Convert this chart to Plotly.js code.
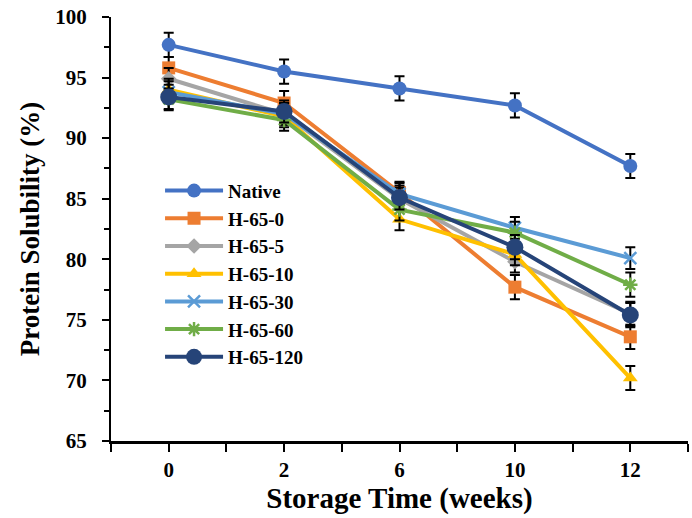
<!DOCTYPE html>
<html>
<head>
<meta charset="utf-8">
<script src="https://cdn.plot.ly/plotly-3.0.1.min.js"></script>
<style>
  html,body{margin:0;padding:0;background:#fff;}
  #chart{width:692px;height:518px;}
</style>
</head>
<body>
<div id="chart"></div>
<script>
// Protein solubility during storage
const WEEKS = ["0","2","6","10","12"];

const NATIVE    = [97.7, 95.5, 94.1, 92.7, 87.7];
const H65_0     = [95.8, 92.9, 85.5, 77.7, 73.6];
const H65_5     = [94.9, 92.0, 85.0, 79.8, 75.5];
const H65_10    = [94.0, 91.8, 83.3, 80.4, 70.2];
const H65_30    = [93.8, 92.0, 85.4, 82.6, 80.1];
const H65_60    = [93.2, 91.5, 84.1, 82.2, 77.9];
const H65_120   = [93.4, 92.2, 85.1, 81.0, 75.4];

const ERR_NATIVE  = [1.0, 1.0, 1.0, 1.0, 1.0];
const ERR_H65_0   = [0.9, 1.0, 0.9, 1.0, 1.0];
const ERR_H65_5   = [0.9, 0.9, 0.9, 0.9, 1.0];
const ERR_H65_10  = [0.9, 0.9, 0.9, 0.9, 1.0];
const ERR_H65_30  = [0.9, 0.9, 0.9, 0.9, 0.9];
const ERR_H65_60  = [0.9, 0.9, 0.9, 0.9, 1.0];
const ERR_H65_120 = [1.0, 0.9, 1.0, 1.0, 1.0];

const FONT = 'Liberation Serif, Times New Roman, serif';
const xs = WEEKS.map((w,i)=>i);

function tr(name, y, err, color, symbol, size, lineColor){
  return {
    x: xs, y: y, name: name, type:'scatter', mode:'lines+markers',
    line:{color:color, width:4},
    marker:{symbol:symbol, size:size, color:color, line:{color:lineColor||color, width:lineColor?2.5:0}},
    error_y:{type:'data', array:err, visible:true, color:'#000', thickness:2, width:5}
  };
}

const traces = [
  tr('Native',   NATIVE,  ERR_NATIVE,  '#4472C4','circle',14),
  tr('H-65-0',   H65_0,   ERR_H65_0,   '#ED7D31','square',13),
  tr('H-65-5',   H65_5,   ERR_H65_5,   '#A5A5A5','diamond',12),
  tr('H-65-10',  H65_10,  ERR_H65_10,  '#FFC000','triangle-up',13),
  tr('H-65-30',  H65_30,  ERR_H65_30,  '#5B9BD5','x-thin-open',12,'#5B9BD5'),
  tr('H-65-60',  H65_60,  ERR_H65_60,  '#70AD47','asterisk-open',12,'#70AD47'),
  tr('H-65-120', H65_120, ERR_H65_120, '#264478','circle',17)
];

const tickv = [], tickt = [];
for (let i=-0.5;i<=WEEKS.length-0.5+1e-9;i+=0.5){
  tickv.push(i);
  tickt.push(Number.isInteger(i)?WEEKS[i]:'');
}

const TICKFONT = {family:FONT, size:21, color:'#000', weight:'bold'};

const layout = {
  width:692, height:518,
  paper_bgcolor:'#fff', plot_bgcolor:'#fff',
  margin:{l:111,r:4,t:17,b:77},
  font:{family:FONT, color:'#000'},
  showlegend:true,
  legend:{x:0.085, y:0.635, xanchor:'left', yanchor:'top', bgcolor:'rgba(0,0,0,0)',
    itemwidth:58,
    font:{family:FONT, size:19, color:'#000', weight:'bold'}, tracegroupgap:0},
  xaxis:{
    range:[-0.5, WEEKS.length-0.5], tickmode:'array', tickvals:tickv, ticktext:tickt,
    showline:true, linecolor:'#000', linewidth:2.5, showgrid:false, zeroline:false,
    ticks:'outside', ticklen:8, tickwidth:2, tickcolor:'#000',
    tickfont:TICKFONT,
    title:{text:'Storage Time (weeks)', font:{family:FONT, size:29, color:'#000', weight:'bold'}, standoff:2}
  },
  yaxis:{
    range:[65,100], dtick:5, tick0:65, ticksuffix:'\u00a0\u00a0',
    showline:true, linecolor:'#000', linewidth:2.5, showgrid:false, zeroline:false,
    ticks:'outside', ticklen:7, tickwidth:2, tickcolor:'#000',
    minor:{dtick:2.5, ticks:'outside', ticklen:5, tickwidth:2, tickcolor:'#000'},
    tickfont:TICKFONT
  },
  annotations:[{
    text:'Protein Solubility (%)', xref:'paper', yref:'paper', x:-0.14, y:0.5,
    xanchor:'center', yanchor:'middle', textangle:-90, showarrow:false,
    font:{family:FONT, size:27, color:'#000', weight:'bold'}
  }]
};

Plotly.newPlot('chart', traces, layout, {displayModeBar:false, staticPlot:true});
</script>
</body>
</html>
